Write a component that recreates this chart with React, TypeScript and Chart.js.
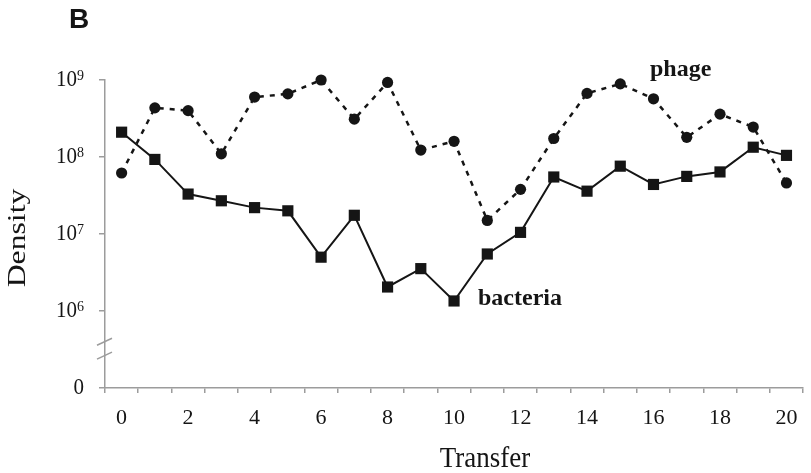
import React, { useEffect, useRef } from "react";
import { Chart, registerables } from "chart.js";

Chart.register(...registerables);

// Serial transfer number
const transfers = ["0","1","2","3","4","5","6","7","8","9","10","11","12","13","14","15","16","17","18","19","20"];

// Bacterial density per transfer
const bacteria = [2.1e8, 9.3e7, 3.3e7, 2.7e7, 2.2e7, 2.0e7, 5.0e6, 1.75e7, 2.05e6, 3.55e6, 1.35e6, 5.5e6, 1.05e7, 5.5e7, 3.6e7, 7.6e7, 4.4e7, 5.6e7, 6.4e7, 1.34e8, 1.05e8];

// Phage density per transfer
const phage = [6.2e7, 4.35e8, 4.0e8, 1.1e8, 6.0e8, 6.6e8, 1.0e9, 3.1e8, 9.3e8, 1.23e8, 1.6e8, 1.5e7, 3.8e7, 1.74e8, 6.7e8, 8.9e8, 5.7e8, 1.8e8, 3.6e8, 2.45e8, 4.6e7];

// Y tick values; the lowest one stands for zero below the axis break
const yTicks = [1e5, 1e6, 1e7, 1e8, 1e9];
const yTickBases = ["0", "10", "10", "10", "10"];
const yTickExps = ["", "6", "7", "8", "9"];

const SERIF = "'Liberation Serif', 'Times New Roman', serif";
const SANS = "'Liberation Sans', Arial, sans-serif";
const AXIS_GREY = "#9c9c9c";
const INK = "#151515";

const decorations = {
  id: "decorations",
  afterDraw(chart: any) {
    const { ctx, chartArea } = chart;
    const y = chart.scales.y;
    ctx.save();

    // y tick labels with superscript exponents
    ctx.fillStyle = INK;
    ctx.textBaseline = "middle";
    const right = chartArea.left - 21;
    yTicks.forEach((v, i) => {
      const py = y.getPixelForValue(v);
      const exp = yTickExps[i];
      ctx.save();
      ctx.translate(0, py);
      ctx.scale(1, 1.06);
      ctx.font = `21px ${SERIF}`;
      if (!exp) {
        ctx.textAlign = "right";
        ctx.fillText(yTickBases[i], right, 0);
        ctx.restore();
        return;
      }
      ctx.font = `14px ${SERIF}`;
      const ew = ctx.measureText(exp).width;
      ctx.textAlign = "left";
      ctx.fillText(exp, right - ew, -4);
      ctx.font = `21px ${SERIF}`;
      ctx.textAlign = "right";
      ctx.fillText(yTickBases[i], right - ew, 0);
      ctx.restore();
    });

    // axis break marks between the zero tick and the first decade
    const p6 = y.getPixelForValue(1e6);
    const p0 = y.getPixelForValue(1e5);
    const ax = chartArea.left;
    ctx.strokeStyle = AXIS_GREY;
    ctx.lineWidth = 1.5;
    [0.4, 0.58].forEach((f) => {
      const cy = p6 + (p0 - p6) * f;
      ctx.beginPath();
      ctx.moveTo(ax - 8, cy + 3.5);
      ctx.lineTo(ax + 7, cy - 3.5);
      ctx.stroke();
    });

    // axis titles
    ctx.fillStyle = INK;
    ctx.textAlign = "center";
    ctx.textBaseline = "alphabetic";
    ctx.save();
    ctx.translate(485, 467);
    ctx.scale(1, 1.08);
    ctx.font = `27px ${SERIF}`;
    ctx.fillText("Transfer", 0, 0);
    ctx.restore();

    ctx.save();
    ctx.translate(25, 238);
    ctx.rotate(-Math.PI / 2);
    ctx.scale(1.22, 1);
    ctx.font = `26px ${SERIF}`;
    ctx.fillText("Density", 0, 0);
    ctx.restore();

    // series labels
    ctx.font = `bold 24px ${SERIF}`;
    ctx.textAlign = "left";
    ctx.fillText("phage", 650, 76);
    ctx.fillText("bacteria", 478, 305);

    // panel letter
    ctx.font = `bold 28px ${SANS}`;
    ctx.fillText("B", 69, 28);

    ctx.restore();
  },
};

export default function App() {
  const canvasRef = useRef<HTMLCanvasElement | null>(null);

  useEffect(() => {
    const canvas = canvasRef.current;
    if (!canvas) return;
    const chart = new Chart(canvas, {
      type: "line",
      data: {
        labels: transfers,
        datasets: [
          {
            label: "phage",
            data: phage,
            borderColor: INK,
            backgroundColor: INK,
            borderWidth: 2.5,
            borderDash: [5, 6],
            pointStyle: "circle",
            pointRadius: 5.6,
            pointBorderWidth: 0,
            tension: 0,
            clip: false as any,
          },
          {
            label: "bacteria",
            data: bacteria,
            borderColor: INK,
            backgroundColor: INK,
            borderWidth: 2,
            pointStyle: "rect",
            pointRadius: 7.9,
            pointBorderWidth: 0,
            tension: 0,
            clip: false as any,
          },
        ],
      },
      options: {
        responsive: false,
        animation: false,
        devicePixelRatio: 1,
        layout: { padding: { top: 80, right: 4, left: 0, bottom: 0 } },
        plugins: {
          legend: { display: false },
          tooltip: { enabled: false },
          title: { display: false },
        },
        scales: {
          x: {
            type: "category",
            offset: true,
            grid: {
              offset: true,
              drawOnChartArea: false,
              drawTicks: true,
              tickLength: 5,
              color: AXIS_GREY,
              lineWidth: 1.5,
            },
            border: { color: AXIS_GREY, width: 1.5 },
            ticks: {
              autoSkip: false,
              maxRotation: 0,
              minRotation: 0,
              padding: 12,
              color: INK,
              font: { family: SERIF, size: 22 },
              callback: (_v: any, i: number) => (i % 2 === 0 ? transfers[i] : ""),
            },
            afterFit: (scale: any) => {
              scale.height = 85;
            },
          },
          y: {
            type: "logarithmic",
            min: 1e5,
            max: 1e9,
            afterBuildTicks: (scale: any) => {
              scale.ticks = yTicks.map((v) => ({ value: v }));
            },
            grid: {
              drawOnChartArea: false,
              drawTicks: true,
              tickLength: 6,
              color: AXIS_GREY,
              lineWidth: 1.5,
            },
            border: { color: AXIS_GREY, width: 1.5 },
            ticks: { display: false },
            afterFit: (scale: any) => {
              scale.width = 105;
            },
          },
        },
      },
      plugins: [decorations],
    });
    return () => chart.destroy();
  }, []);

  return (
    <div style={{ position: "fixed", left: 0, top: 0, width: 811, height: 473, background: "#fff" }}>
      <canvas ref={canvasRef} width={811} height={473} />
    </div>
  );
}
